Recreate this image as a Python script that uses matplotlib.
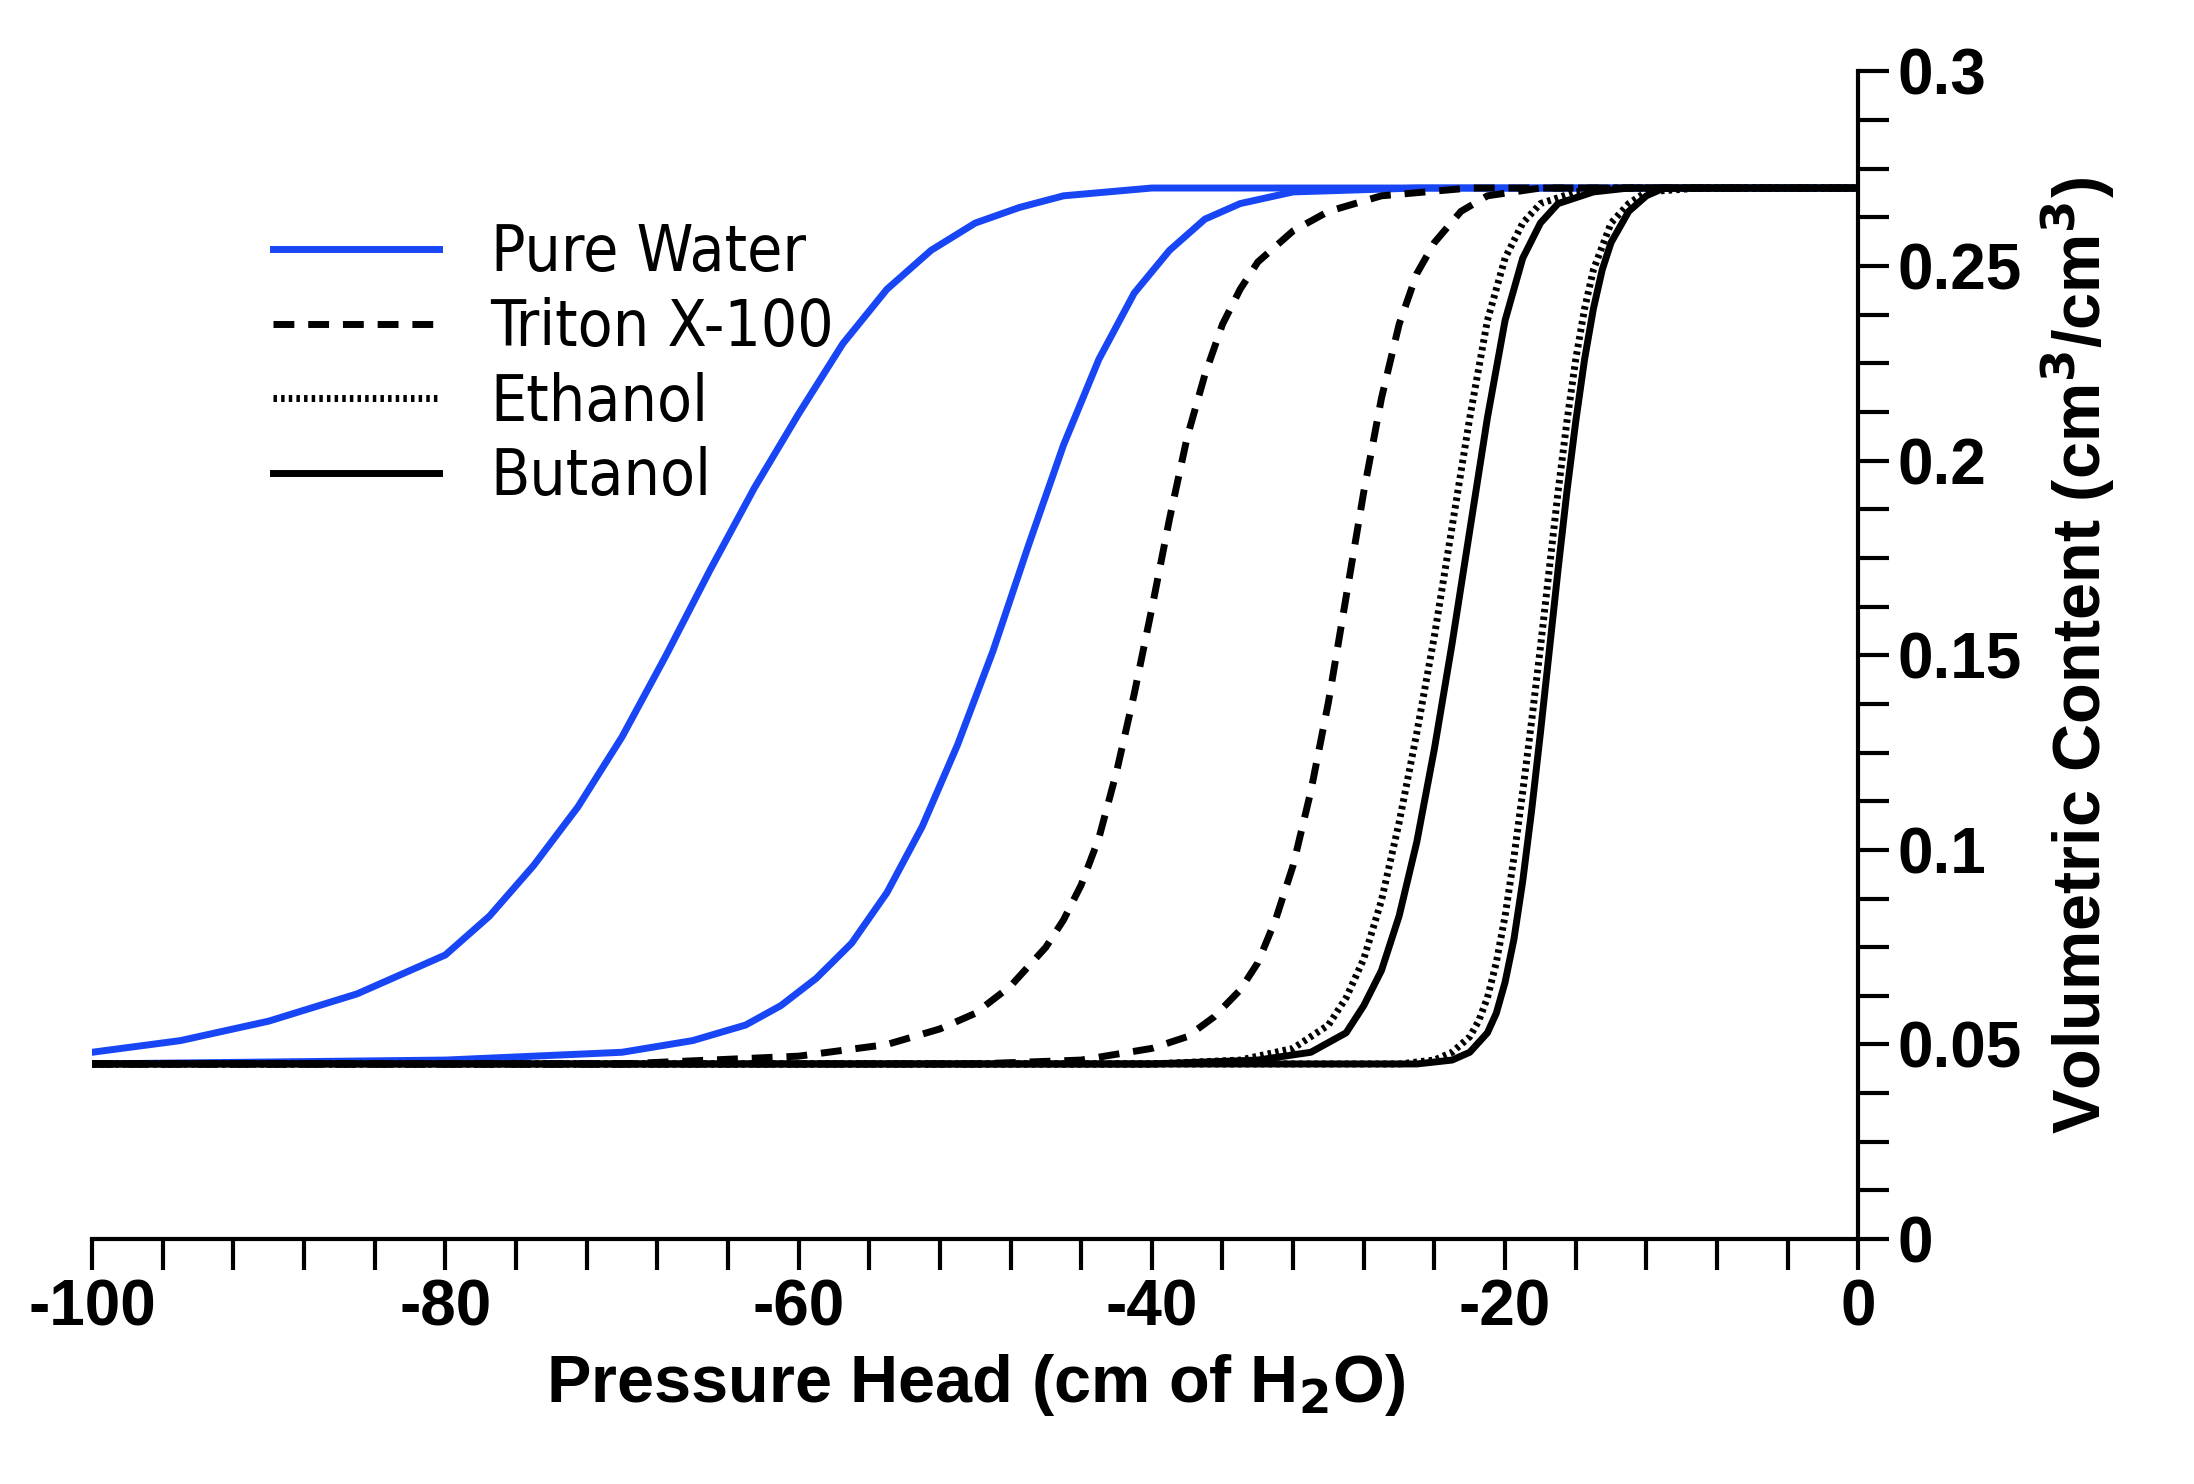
import matplotlib
matplotlib.use('Agg')
import matplotlib.pyplot as plt
from matplotlib.ticker import MultipleLocator

# values
water1_x = [-100, -95, -90, -85, -80, -77.5, -75, -72.5, -70, -67.5, -65, -62.5, -60, -57.5, -55, -52.5, -50, -47.5, -45, -42.5, -40, -35, -30, 0]
water1_y = [0.048, 0.051, 0.056, 0.063, 0.073, 0.083, 0.096, 0.111, 0.129, 0.150, 0.172, 0.193, 0.212, 0.230, 0.244, 0.254, 0.261, 0.265, 0.268, 0.269, 0.270, 0.270, 0.270, 0.270]
water2_x = [-100, -80, -70, -66, -63, -61, -59, -57, -55, -53, -51, -49, -47, -45, -43, -41, -39, -37, -35, -32, -25, 0]
water2_y = [0.045, 0.046, 0.048, 0.051, 0.055, 0.060, 0.067, 0.076, 0.089, 0.106, 0.127, 0.151, 0.178, 0.204, 0.226, 0.243, 0.254, 0.262, 0.266, 0.269, 0.270, 0.270]
triton1_x = [-100, -70, -60, -55, -52, -50, -48, -46, -45, -44, -43, -42, -41, -40, -39, -38, -37, -36, -35, -34, -32, -30, -27, -22, 0]
triton1_y = [0.045, 0.045, 0.047, 0.050, 0.054, 0.058, 0.065, 0.075, 0.082, 0.091, 0.103, 0.120, 0.140, 0.162, 0.185, 0.206, 0.222, 0.235, 0.244, 0.251, 0.259, 0.264, 0.268, 0.270, 0.270]
triton2_x = [-100, -50, -44, -40, -38, -36.5, -35, -34, -33, -32, -31, -30, -29, -28, -27, -26, -25, -24, -22.5, -21, -18, 0]
triton2_y = [0.045, 0.045, 0.046, 0.049, 0.052, 0.057, 0.064, 0.071, 0.082, 0.096, 0.115, 0.138, 0.165, 0.192, 0.216, 0.235, 0.248, 0.256, 0.264, 0.268, 0.270, 0.270]
ethanol1_x = [-100, -40, -35, -32, -30, -29, -28, -27, -26, -25, -24, -23, -22, -21, -20, -19, -18, -16, -14, 0]
ethanol1_y = [0.045, 0.045, 0.046, 0.049, 0.055, 0.062, 0.072, 0.087, 0.107, 0.130, 0.155, 0.183, 0.211, 0.236, 0.252, 0.261, 0.266, 0.269, 0.270, 0.270]
butanol1_x = [-100, -40, -34, -31, -29, -28, -27, -26, -25, -24, -23, -22, -21, -20, -19, -18, -17, -15, -13, 0]
butanol1_y = [0.045, 0.045, 0.046, 0.048, 0.053, 0.060, 0.069, 0.083, 0.102, 0.126, 0.153, 0.182, 0.211, 0.236, 0.252, 0.261, 0.266, 0.269, 0.270, 0.270]
ethanol2_x = [-100, -26, -24, -23, -22, -21.5, -21, -20.5, -20, -19.5, -19, -18.5, -18, -17.5, -17, -16.5, -16, -15.5, -15, -14, -13, -12, -9, 0]
ethanol2_y = [0.045, 0.045, 0.046, 0.048, 0.052, 0.056, 0.062, 0.071, 0.083, 0.098, 0.115, 0.133, 0.152, 0.172, 0.192, 0.210, 0.226, 0.239, 0.249, 0.261, 0.266, 0.269, 0.270, 0.270]
butanol2_x = [-100, -25, -23, -22, -21, -20.5, -20, -19.5, -19, -18.5, -18, -17.5, -17, -16.5, -16, -15.5, -15, -14.5, -14, -13, -12, -11, -8, 0]
butanol2_y = [0.045, 0.045, 0.046, 0.048, 0.053, 0.058, 0.066, 0.077, 0.092, 0.110, 0.130, 0.151, 0.172, 0.192, 0.210, 0.226, 0.239, 0.249, 0.256, 0.264, 0.268, 0.270, 0.270, 0.270]

plt.rcParams['font.family'] = ['Liberation Sans', 'DejaVu Sans']
plt.rcParams['axes.unicode_minus'] = False

fig = plt.figure(figsize=(21.94, 14.84), dpi=100)
ax = fig.add_axes([0.042, 0.165, 0.805, 0.787])

lw = 5
blue = '#1846f5'
ax.plot(water1_x, water1_y, color=blue, lw=lw, label='Pure Water')
ax.plot(water2_x, water2_y, color=blue, lw=lw)
ax.plot(triton1_x, triton1_y, color='black', lw=lw, ls=(0, (3, 2)), label='Triton X-100')
ax.plot(triton2_x, triton2_y, color='black', lw=lw, ls=(0, (3, 2)))
ax.plot(ethanol1_x, ethanol1_y, color='black', lw=lw, ls=(0, (0.5, 0.6)), label='Ethanol')
ax.plot(ethanol2_x, ethanol2_y, color='black', lw=lw, ls=(0, (0.5, 0.6)))
ax.plot(butanol1_x, butanol1_y, color='black', lw=lw, label='Butanol')
ax.plot(butanol2_x, butanol2_y, color='black', lw=lw)

ax.set_xlim(-100, 0)
ax.set_ylim(0, 0.3)
for s in ['top', 'left']:
    ax.spines[s].set_visible(False)
for s in ['bottom', 'right']:
    ax.spines[s].set_linewidth(3)

ax.yaxis.tick_right()
ax.yaxis.set_label_position('right')
ax.xaxis.set_major_locator(MultipleLocator(20))
ax.xaxis.set_minor_locator(MultipleLocator(4))
ax.yaxis.set_minor_locator(MultipleLocator(0.0125))
ax.set_yticks([0, 0.05, 0.1, 0.15, 0.2, 0.25, 0.3], ['0', '0.05', '0.1', '0.15', '0.2', '0.25', '0.3'])
ax.tick_params(which='major', length=22, width=3, labelsize=46, pad=6)
ax.tick_params(which='minor', length=22, width=3)
for lab in ax.get_xticklabels() + ax.get_yticklabels():
    lab.set_fontweight('bold')

ax.set_xlabel('Pressure Head (cm of H$_\\mathbf{2}$O)', fontsize=48, fontweight='bold', labelpad=10)
ax.set_ylabel('Volumetric Content (cm$^\\mathbf{3}$/cm$^\\mathbf{3}$)', fontsize=48, fontweight='bold', labelpad=12)

ax.legend(loc='upper left', bbox_to_anchor=(0.07, 0.92), frameon=False,
          prop={'family': 'DejaVu Sans', 'stretch': 'condensed', 'size': 46}, handlelength=2.6,
          labelspacing=0.2)

fig.savefig('out.png', dpi=100)
